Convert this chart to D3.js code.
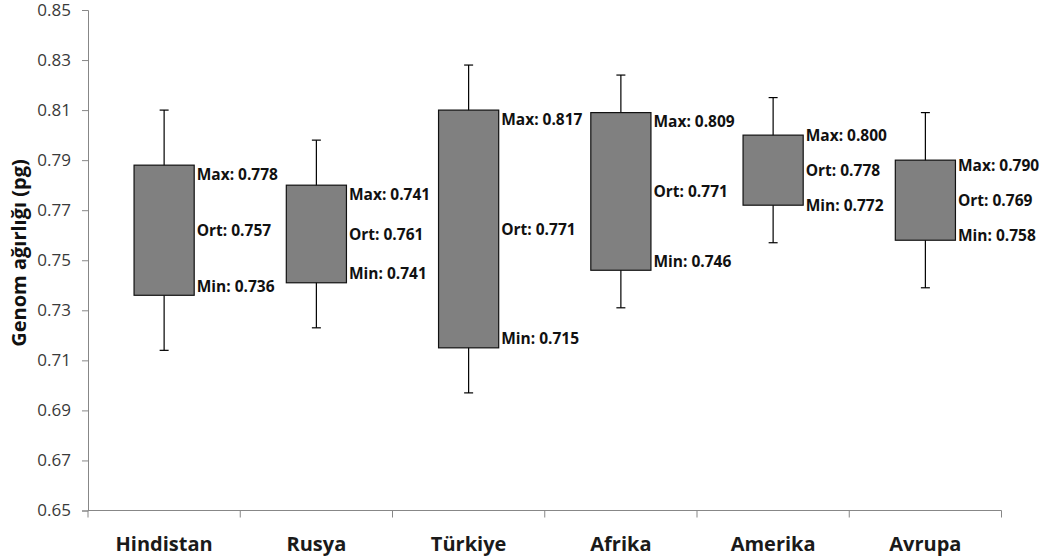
<!DOCTYPE html>
<html>
<head>
<meta charset="utf-8">
<script src="https://cdn.jsdelivr.net/npm/d3@7"></script>
<style>
  html, body { margin: 0; padding: 0; background: #fff; }
  svg { display: block; font-family: "Open Sans", "Liberation Sans", sans-serif; }
</style>
</head>
<body>
<svg id="chart" width="1053" height="559"></svg>
<script>
// Genome weight by region: whiskers, box and value labels
const categories = ["Hindistan", "Rusya", "Türkiye", "Afrika", "Amerika", "Avrupa"];
const whiskerLow  = [0.714, 0.723, 0.697, 0.731, 0.757, 0.739];
const boxLow      = [0.736, 0.741, 0.715, 0.746, 0.772, 0.758];
const boxHigh     = [0.788, 0.780, 0.810, 0.809, 0.800, 0.790];
const whiskerHigh = [0.810, 0.798, 0.828, 0.824, 0.815, 0.809];

// Values printed beside each box
const maxLabels = [0.778, 0.741, 0.817, 0.809, 0.800, 0.790];
const ortLabels = [0.757, 0.761, 0.771, 0.771, 0.778, 0.769];
const minLabels = [0.736, 0.741, 0.715, 0.746, 0.772, 0.758];

const yTicks = [0.65, 0.67, 0.69, 0.71, 0.73, 0.75, 0.77, 0.79, 0.81, 0.83, 0.85];
const yTitle = "Genom ağırlığı (pg)";

const svg = d3.select("#chart");
const plotL = 88, plotR = 1001.5, plotT = 10, plotB = 510.5;
const axisColor = "#878787";

const x = d3.scaleBand().domain(categories).range([plotL, plotR]).padding(0);
const y = d3.scaleLinear().domain([0.65, 0.85]).range([plotB, plotT]);
const boxW = x.bandwidth() * 0.395;
const capW = 9;

const rows = categories.map((c, i) => ({
  c, wl: whiskerLow[i], bl: boxLow[i], bh: boxHigh[i], wh: whiskerHigh[i],
  max: maxLabels[i], ort: ortLabels[i], min: minLabels[i]
}));

// Y axis
const yAxis = svg.append("g")
  .attr("transform", `translate(${plotL},0)`)
  .call(d3.axisLeft(y).tickValues(yTicks).tickFormat(d3.format(".2f")).tickSize(6).tickPadding(11));
yAxis.select(".domain").attr("stroke", axisColor);
yAxis.selectAll(".tick line").attr("stroke", axisColor);
yAxis.selectAll(".tick text")
  .attr("font-family", "'Open Sans', sans-serif")
  .attr("font-size", 17).attr("fill", "#3a3a3a");

// X axis with ticks between categories
const xAxis = svg.append("g").attr("transform", `translate(0,${plotB})`);
xAxis.append("line").attr("x1", plotL).attr("x2", plotR).attr("stroke", axisColor);
const boundaries = categories.map(c => x(c)).concat([plotR]);
xAxis.selectAll("line.sep").data(boundaries).join("line")
  .attr("class", "sep")
  .attr("x1", d => d).attr("x2", d => d)
  .attr("y1", 0).attr("y2", 7)
  .attr("stroke", axisColor);
xAxis.selectAll("text").data(categories).join("text")
  .attr("x", d => x(d) + x.bandwidth() / 2)
  .attr("y", 40)
  .attr("text-anchor", "middle")
  .attr("font-size", 20).attr("font-weight", "bold")
  .attr("fill", "#1a1a1a")
  .text(d => d);

// Y axis title
svg.append("text")
  .attr("transform", `translate(26,${253}) rotate(-90)`)
  .attr("text-anchor", "middle")
  .attr("font-size", 20).attr("font-weight", "bold")
  .attr("fill", "#111")
  .text(yTitle);

const g = svg.append("g");
const cx = d => x(d.c) + x.bandwidth() / 2;

// Whiskers
g.selectAll("line.whisker").data(rows).join("line")
  .attr("class", "whisker")
  .attr("x1", cx).attr("x2", cx)
  .attr("y1", d => y(d.wh)).attr("y2", d => y(d.wl))
  .attr("stroke", "#000").attr("stroke-width", 1.2);
g.selectAll("line.capTop").data(rows).join("line")
  .attr("class", "capTop")
  .attr("x1", d => cx(d) - capW / 2).attr("x2", d => cx(d) + capW / 2)
  .attr("y1", d => y(d.wh)).attr("y2", d => y(d.wh))
  .attr("stroke", "#000").attr("stroke-width", 1.2);
g.selectAll("line.capBot").data(rows).join("line")
  .attr("class", "capBot")
  .attr("x1", d => cx(d) - capW / 2).attr("x2", d => cx(d) + capW / 2)
  .attr("y1", d => y(d.wl)).attr("y2", d => y(d.wl))
  .attr("stroke", "#000").attr("stroke-width", 1.2);

// Boxes
g.selectAll("rect.box").data(rows).join("rect")
  .attr("class", "box")
  .attr("x", d => cx(d) - boxW / 2)
  .attr("width", boxW)
  .attr("y", d => y(d.bh))
  .attr("height", d => y(d.bl) - y(d.bh))
  .attr("fill", "#808080")
  .attr("stroke", "#111").attr("stroke-width", 1.2);

// Value labels: Max near the top edge, Ort at the middle, Min near the bottom edge
const fmt = d3.format(".3f");
const minGap = 35;
rows.forEach(d => {
  const yt = y(d.bh), yb = y(d.bl), ym = (yt + yb) / 2;
  let yMax = yt + 9, yMin = yb - 9;
  if (ym - yMax < minGap) yMax = ym - minGap;
  if (yMin - ym < minGap) yMin = ym + minGap;
  const lx = cx(d) + boxW / 2 + 2.5;
  const items = [
    { t: "Max: " + fmt(d.max), yy: yMax },
    { t: "Ort: " + fmt(d.ort), yy: ym },
    { t: "Min: " + fmt(d.min), yy: yMin }
  ];
  g.selectAll(null).data(items).join("text")
    .attr("x", lx).attr("y", e => e.yy)
    .attr("dy", "0.36em")
    .attr("font-size", 15.5).attr("font-weight", "bold")
    .attr("fill", "#111")
    .text(e => e.t);
});
</script>
</body>
</html>
